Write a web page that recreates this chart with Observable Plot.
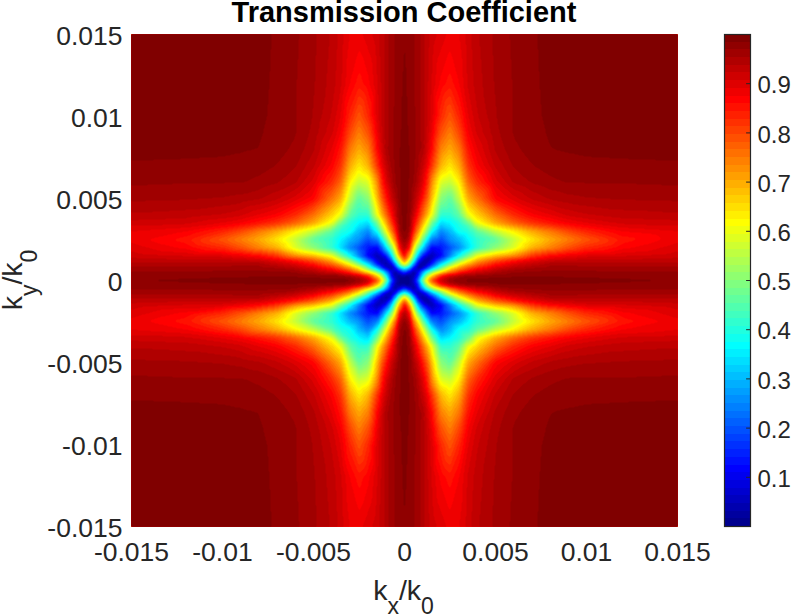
<!DOCTYPE html>
<html><head><meta charset="utf-8">
<style>
html,body{margin:0;padding:0;background:#fff}
#chart{position:relative;width:791px;height:615px;overflow:hidden}
#chart svg{position:absolute;left:0;top:0;background:transparent}
</style>
<script src="https://cdn.jsdelivr.net/npm/d3@7"></script>
<script src="https://cdn.jsdelivr.net/npm/@observablehq/plot@0.6"></script>
</head><body><div id="chart"></div>
<script>
const FONT = "Liberation Sans, Arial, sans-serif";
const INK = "#262626";
const titleText = "Transmission Coefficient";
const axisTicks = [-0.015,-0.01,-0.005,0,0.005,0.01,0.015];
const barTicks = [0.1,0.2,0.3,0.4,0.5,0.6,0.7,0.8,0.9];
// sample positions along |k|, in units of 1e-3 k0
const gridK = [0,0.25,0.5,0.75,1,1.25,1.5,2,2.5,3,3.5,4,5,6,7,8,9,10,12,15];
// transmission; row i holds T(gridK[i], gridK[j]) for j >= i
const rowK00 = [.002,.01,.17,.37,.62,.78,.875,.95,.98,.99,.99,.99,.99,.99,.99,.99,.99,.99,.988,.985];
const rowK01 = [.005,.09,.28,.5,.6,.72,.875,.94,.97,.98,.98,.985,.985,.985,.985,.983,.982,.98,.978];
const rowK02 = [.01,.1,.26,.41,.5,.64,.76,.84,.885,.92,.95,.97,.975,.975,.975,.975,.97,.97];
const rowK03 = [.015,.07,.17,.3,.47,.63,.73,.8,.85,.91,.94,.955,.96,.96,.96,.96,.96];
const rowK04 = [.02,.06,.14,.34,.48,.61,.7,.77,.85,.9,.925,.95,.948,.945,.945,.945];
const rowK05 = [.025,.07,.21,.36,.49,.6,.69,.78,.84,.885,.91,.92,.925,.925,.93];
const rowK06 = [.04,.11,.24,.375,.48,.6,.68,.73,.82,.865,.885,.9,.905,.915];
const rowK07 = [.13,.19,.25,.33,.41,.5,.585,.69,.74,.79,.83,.87,.9];
const rowK08 = [.26,.3,.36,.41,.46,.56,.64,.7,.745,.785,.85,.885];
const rowK09 = [.38,.4,.46,.56,.63,.7,.75,.8,.835,.875,.89];
const rowK10 = [.47,.6,.7,.77,.82,.85,.875,.89,.91,.915];
const rowK11 = [.66,.76,.83,.87,.89,.91,.92,.93,.935];
const rowK12 = [.865,.9,.925,.94,.948,.952,.955,.957];
const rowK13 = [.94,.955,.965,.97,.97,.97,.972];
const rowK14 = [.968,.975,.979,.98,.981,.982];
const rowK15 = [.984,.986,.988,.989,.99];
const rowK16 = [.989,.99,.991,.992];
const rowK17 = [.992,.993,.993];
const rowK18 = [.994,.994];
const rowK19 = [.995];
const rows = [rowK00,rowK01,rowK02,rowK03,rowK04,rowK05,rowK06,rowK07,rowK08,rowK09,rowK10,rowK11,rowK12,rowK13,rowK14,rowK15,rowK16,rowK17,rowK18,rowK19];
// the tongue along the kx axis reaches a little further out than along ky
const alongXK = [0.5,0.75,1,1.25,1.5,2,2.5];
const alongX0 = [.06,.22,.47,.66,.8,.93,.975];
const alongX25K = [0.5,0.75,1,1.25,1.5,2,2.5,3];
const alongX25 = [.03,.15,.38,.55,.68,.86,.93,.96];

// the picture is symmetric in the sign of kx and ky, and nearly so under their exchange
const table = new Map();
const put = (a,b,v)=>{ for (const sx of [1,-1]) for (const sy of [1,-1]) table.set((sx*a)+"|"+(sy*b),{kx:sx*a/1000,ky:sy*b/1000,t:v}); };
rows.forEach((row,i)=>row.forEach((v,k)=>{ const j=i+k; put(gridK[i],gridK[j],v); put(gridK[j],gridK[i],v); }));
alongXK.forEach((a,i)=>put(a,0,alongX0[i]));
alongX25K.forEach((a,i)=>put(a,0.25,alongX25[i]));
const samples = [...table.values()];

// MATLAB jet(64)
const levelCount = 64;
const jetStops = [1,8,24,40,56,64];
const jetColors = ["#00008f","#0000ff","#00ffff","#ffff00","#ff0000","#800000"];
const jetScale = d3.scaleLinear().domain(jetStops).range(jetColors);
const jet = d3.range(1,levelCount+1).map(i=>d3.rgb(jetScale(i)).formatHex());
const bounds = d3.range(1,levelCount).map(i=>i/levelCount);
const levels = d3.range(levelCount);

const fontSize = 26.5, barFontSize = 24;
const main = Plot.plot({
  width:791,height:615,marginLeft:131,marginRight:114,marginTop:34,marginBottom:89,
  style:{fontFamily:FONT,fontSize:fontSize+"px",color:INK,background:"transparent"},
  x:{domain:[-0.015,0.015],label:null},
  y:{domain:[-0.015,0.015],label:null},
  color:{type:"threshold",domain:bounds,range:jet},
  marks:[
    Plot.contour(samples,{x:"kx",y:"ky",fill:"t",thresholds:[0,...bounds],interpolate:"barycentric",pixelSize:1,blur:0.5,smooth:false,stroke:"none"}),
    Plot.axisX(axisTicks,{tickSize:0,tickPadding:15.5,tickFormat:d=>String(d),label:null,fontSize:fontSize}),
    Plot.axisY(axisTicks,{tickSize:0,tickPadding:9,dy:2,tickFormat:d=>String(d),label:null,fontSize:fontSize})
  ]
});
const bar = Plot.plot({
  width:791,height:615,marginLeft:724,marginRight:41,marginTop:34,marginBottom:89,
  style:{fontFamily:FONT,fontSize:barFontSize+"px",color:INK,background:"transparent"},
  x:{domain:[0,1],axis:null},
  y:{domain:[0,1],label:null},
  marks:[
    Plot.rect(levels,{x1:0,x2:1,y1:d=>d/levelCount,y2:d=>(d+1)/levelCount,fill:d=>jet[d],shapeRendering:"crispEdges",inset:0}),
    Plot.ruleY(barTicks,{x1:0.85,x2:1,stroke:INK,strokeWidth:1}),
    Plot.frame({stroke:INK,strokeWidth:1.2}),
    Plot.axisY(barTicks,{anchor:"right",tickSize:0,tickPadding:7,dy:2,tickFormat:d=>String(d),label:null,fontSize:barFontSize})
  ]
});
const root = document.getElementById("chart");
root.append(main,bar);

const svg = d3.select(main);
svg.append("text").attr("x",404).attr("y",22).attr("text-anchor","middle")
  .attr("font-family",FONT).attr("font-weight","bold").attr("font-size",29).attr("fill","#000").text(titleText);
function subLabel(g,sub){
  const t=g.append("text").attr("text-anchor","middle").attr("font-family",FONT).attr("font-size",28.5).attr("fill",INK);
  t.append("tspan").text("k");
  t.append("tspan").attr("dy",14.5).attr("font-size",23).text(sub);
  t.append("tspan").attr("dy",-14.5).text("/k");
  t.append("tspan").attr("dy",14.5).attr("font-size",23).text("0");
}
subLabel(svg.append("g").attr("transform","translate(403.5,599.5)"),"x");
subLabel(svg.append("g").attr("transform","translate(22,280) rotate(-90)"),"y");
</script></body></html>
